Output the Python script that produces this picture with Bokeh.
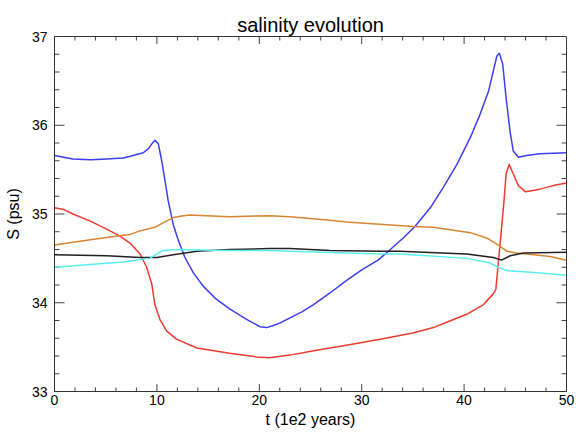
import numpy as np
from bokeh.plotting import figure
from bokeh.models import Range1d, LinearAxis, FixedTicker
from bokeh.embed import file_html
from bokeh.resources import INLINE

# ---- data ----
blue_t = [0, 1.8, 3.5, 5.1, 6.7, 7.4, 8.67, 9.2, 9.5, 9.8, 10.14, 10.47, 10.8, 11.1, 11.6, 12.1,
          12.74, 13.55, 14.5, 15.8, 17.1, 18.8, 20.07, 20.7, 21.3, 22.0, 23.0, 24.2, 25.3, 26.9,
          28.5, 30.0, 31.6, 32.6, 34.06, 35.2, 36.7, 37.97, 39.3, 40.6, 41.55, 42.4, 42.85, 43.2,
          43.44, 43.77, 44.1, 44.5, 44.8, 45.3, 46.1, 47.4, 50]
blue_S = [35.66, 35.62, 35.61, 35.62, 35.63, 35.65, 35.69, 35.74, 35.79, 35.83, 35.79, 35.60, 35.37,
          35.15, 34.88, 34.70, 34.51, 34.34, 34.19, 34.04, 33.93, 33.81, 33.73, 33.72, 33.74, 33.77,
          33.83, 33.90, 33.98, 34.11, 34.25, 34.37, 34.48, 34.58, 34.73, 34.86, 35.07, 35.30, 35.56,
          35.86, 36.12, 36.39, 36.61, 36.78, 36.81, 36.69, 36.31, 35.92, 35.71, 35.64, 35.66, 35.68,
          35.69]

red_t = [0, 0.9, 1.8, 3.5, 5.1, 6.4, 7.4, 8.35, 9.0, 9.5, 9.8, 10.3, 10.96, 11.9, 13.9, 17.1, 19.7,
         21.0, 23.0, 25.3, 28.5, 31.8, 35.0, 37.0, 38.3, 40.25, 41.9, 42.85, 43.1, 43.3, 43.6, 43.9,
         44.1, 44.4, 44.8, 45.3, 46.0, 47.4, 48.7, 50]
red_S = [35.07, 35.05, 35.0, 34.92, 34.83, 34.75, 34.67, 34.55, 34.40, 34.21, 33.98, 33.81, 33.68,
         33.59, 33.49, 33.43, 33.39, 33.38, 33.41, 33.46, 33.52, 33.59, 33.66, 33.72, 33.78, 33.87,
         33.98, 34.10, 34.15, 34.40, 34.77, 35.15, 35.45, 35.56, 35.45, 35.32, 35.25, 35.28, 35.32,
         35.35]

orange_t = [0, 3.5, 6.7, 7.4, 8.35, 9.8, 10.6, 11.6, 12.6, 13.2, 17.1, 21.0, 23.0, 26.9, 28.5, 35.0,
            37.0, 40.6, 42.2, 43.2, 44.2, 45.1, 46.8, 48.4, 50]
orange_S = [34.65, 34.71, 34.76, 34.77, 34.81, 34.85, 34.90, 34.96, 34.98, 34.99, 34.97, 34.98,
            34.97, 34.93, 34.91, 34.86, 34.85, 34.79, 34.73, 34.66, 34.58, 34.56, 34.54, 34.52, 34.48]

black_t = [0, 5.1, 8.35, 10.0, 11.6, 13.9, 17.1, 21.0, 23.0, 26.9, 31.8, 33.7, 40.25, 42.85, 43.67,
           44.5, 45.8, 50]
black_S = [34.54, 34.53, 34.51, 34.51, 34.54, 34.58, 34.60, 34.61, 34.61, 34.59, 34.58, 34.58,
           34.55, 34.51, 34.48, 34.53, 34.56, 34.57]

cyan_t = [0, 3.5, 6.7, 7.4, 9.3, 10.0, 10.6, 12.25, 16.5, 21.0, 23.0, 31.8, 33.7, 40.25, 42.5, 43.5,
          44.3, 46.8, 50]
cyan_S = [34.40, 34.43, 34.46, 34.47, 34.50, 34.55, 34.59, 34.60, 34.59, 34.59, 34.58, 34.55, 34.55,
          34.50, 34.45, 34.39, 34.36, 34.34, 34.31]

TITLE = "salinity evolution"
X_LABEL = "t (1e2 years)"
Y_LABEL = "S (psu)"
X_MIN, X_MAX, X_MAJOR, X_MINOR = 0, 50, 10, 2
Y_MIN, Y_MAX, Y_MAJOR, Y_MINOR = 33, 37, 1, 0.2

FONT = "Liberation Sans"
FW, FH = 512, 355

p = figure(frame_width=FW, frame_height=FH, output_backend="svg", toolbar_location=None,
           x_range=Range1d(X_MIN, X_MAX), y_range=Range1d(Y_MIN, Y_MAX),
           min_border_left=54, min_border_right=11, min_border_top=36, min_border_bottom=43)
p.grid.visible = False
p.outline_line_color = "#333333"
p.background_fill_color = "white"
p.border_fill_color = "white"

bottom_ax = p.below[0]
left_ax = p.left[0]

for ax in (bottom_ax, left_ax):
    ax.axis_line_color = "#333333"
    ax.major_tick_in = 0
    ax.major_tick_out = 0
    ax.minor_tick_in = 0
    ax.minor_tick_out = 0
    ax.major_tick_line_color = None
    ax.minor_tick_line_color = None
    ax.major_label_text_font = FONT
    ax.major_label_text_font_size = "14px"
    ax.major_label_text_color = "black"
    ax.axis_label_text_font = FONT
    ax.axis_label_text_font_size = "16px"
    ax.axis_label_text_font_style = "normal"
    ax.axis_label_text_color = "black"

bottom_ax.ticker = list(np.arange(X_MIN, X_MAX + 0.01, X_MAJOR))
left_ax.ticker = list(np.arange(Y_MIN, Y_MAX + 0.01, Y_MAJOR))
bottom_ax.axis_label = X_LABEL
left_ax.axis_label = Y_LABEL
bottom_ax.major_label_standoff = 3
bottom_ax.axis_label_standoff = 3
left_ax.major_label_standoff = 7
left_ax.axis_label_standoff = 7

# title: the label of a tick-less axis above the frame (so it sits right on the frame)
top_ax = LinearAxis(ticker=FixedTicker(ticks=[]), axis_label=TITLE)
top_ax.axis_line_color = None
top_ax.major_tick_line_color = None
top_ax.minor_tick_line_color = None
top_ax.major_tick_out = 0
top_ax.major_tick_in = 0
top_ax.minor_tick_out = 0
top_ax.minor_tick_in = 0
top_ax.major_label_standoff = 0
top_ax.axis_label_standoff = 1
top_ax.axis_label_text_font = FONT
top_ax.axis_label_text_font_size = "20px"
top_ax.axis_label_text_font_style = "normal"
top_ax.axis_label_text_color = "black"
p.add_layout(top_ax, "above")

# inward tick marks on all four sides, as segments of a fixed pixel length
px_x = (X_MAX - X_MIN) / FW   # data units per pixel, horizontal
px_y = (Y_MAX - Y_MIN) / FH   # data units per pixel, vertical
xmaj = np.arange(X_MIN, X_MAX + 0.01, X_MAJOR)
xmin = np.array([v for v in np.arange(X_MIN, X_MAX + 0.01, X_MINOR)
                 if abs(v / X_MAJOR - round(v / X_MAJOR)) > 1e-6])
ymaj = np.arange(Y_MIN, Y_MAX + 0.001, Y_MAJOR)
ymin = np.array([v for v in np.arange(Y_MIN, Y_MAX + 0.001, Y_MINOR)
                 if abs(v / Y_MAJOR - round(v / Y_MAJOR)) > 1e-6])
TC = "#444444"
for xs, L in ((xmaj, 7.5), (xmin, 4)):
    n = len(xs)
    p.segment(x0=xs, y0=[Y_MIN] * n, x1=xs, y1=[Y_MIN + L * px_y] * n, line_color=TC, line_width=1)
    p.segment(x0=xs, y0=[Y_MAX] * n, x1=xs, y1=[Y_MAX - L * px_y] * n, line_color=TC, line_width=1)
for ys, L in ((ymaj, 10), (ymin, 5)):
    n = len(ys)
    p.segment(x0=[X_MIN] * n, y0=ys, x1=[X_MIN + L * px_x] * n, y1=ys, line_color=TC, line_width=1)
    p.segment(x0=[X_MAX] * n, y0=ys, x1=[X_MAX - L * px_x] * n, y1=ys, line_color=TC, line_width=1)

LW = 1.5
kw = dict(line_width=LW, line_join="round")
p.line(blue_t, blue_S, line_color="#3d3df2", **kw)
p.line(red_t, red_S, line_color="#ee3b30", **kw)
p.line(orange_t, orange_S, line_color="#d9842f", **kw)
p.line(black_t, black_S, line_color="#222222", **kw)
p.line(cyan_t, cyan_S, line_color="#55f0f0", **kw)

open("out.html", "w").write(file_html(p, INLINE))
